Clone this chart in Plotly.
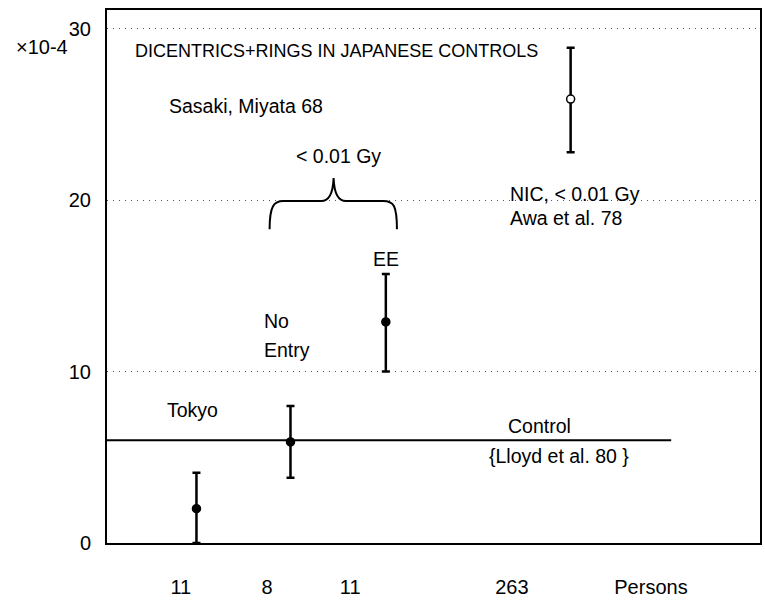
import plotly.graph_objects as go

# data
group_x = [13.7, 28.1, 42.7, 71.0]
rate = [2.0, 5.9, 12.9, 25.9]
err_plus = [2.1, 2.1, 2.8, 3.0]
err_minus = [2.0, 2.1, 2.9, 3.1]
filled = [True, True, True, False]
tick_pos = [11.3, 24.5, 37.25, 62.0, 83.3]
tick_text = ["11", "8", "11", "263", "Persons"]
control_level = 6.0
control_x = [0, 86.4]
y_ticks = [0, 10, 20, 30]

FONT = "Liberation Sans, Arial, sans-serif"

fig = go.Figure()

fig.add_trace(go.Scatter(
    x=control_x, y=[control_level, control_level], mode="lines",
    line=dict(color="black", width=2), showlegend=False, hoverinfo="skip"))

fig.add_trace(go.Scatter(
    x=group_x, y=rate, mode="markers",
    marker=dict(size=8, color=["black" if f else "white" for f in filled],
                line=dict(color="black", width=1.5)),
    error_y=dict(type="data", symmetric=False, array=err_plus, arrayminus=err_minus,
                 color="black", thickness=2.5, width=4),
    showlegend=False))

def ann(x, y, text, xanchor="left", size=19.5):
    fig.add_annotation(x=x, y=y, text=text, showarrow=False, xanchor=xanchor,
                       yanchor="middle", font=dict(family=FONT, size=size, color="black"))

ann(3.97, 28.7, "DICENTRICS+RINGS IN JAPANESE CONTROLS", size=18)
ann(9.16, 25.5, "Sasaki, Miyata 68")
ann(35.4, 22.6, "< 0.01 Gy", xanchor="center")
ann(61.4, 20.35, "NIC, < 0.01 Gy")
ann(61.4, 18.95, "Awa et al. 78")
ann(40.5, 16.6, "EE")
ann(23.7, 12.95, "No")
ann(23.7, 11.25, "Entry")
ann(8.85, 7.75, "Tokyo")
ann(61.1, 6.8, "Control")
ann(58.2, 5.1, "{Lloyd et al. 80 }")

# brace over the "< 0.01 Gy" groups
fig.add_shape(type="path", xref="x", yref="y",
              path="M 24.9 18.3 C 24.9 19.7, 25.6 19.95, 27.0 19.95 L 32.8 19.95 "
                   "C 33.9 19.95, 34.6 20.3, 34.7 21.3 C 34.8 20.3, 35.5 19.95, 36.6 19.95 "
                   "L 42.3 19.95 C 43.9 19.95, 44.4 19.7, 44.4 18.3",
              line=dict(color="black", width=2))

fig.add_annotation(xref="paper", yref="paper", x=-0.0992, y=0.931, text="×10-4",
                   showarrow=False, xanchor="center", yanchor="middle",
                   font=dict(family=FONT, size=20, color="black"))

fig.update_xaxes(range=[0, 100], tickvals=tick_pos, ticktext=tick_text,
                 showgrid=False, zeroline=False, showline=True, linecolor="black",
                 linewidth=2, mirror=True, ticks="", ticklabelstandoff=25,
                 tickfont=dict(family=FONT, size=20, color="black"))
fig.update_yaxes(range=[0, 31.1], tickvals=y_ticks, showgrid=True,
                 gridcolor="#555", griddash="1px,5px", gridwidth=1.3,
                 zeroline=False, showline=True, linecolor="black",
                 linewidth=2, mirror=True, ticks="", ticklabelstandoff=10,
                 tickfont=dict(family=FONT, size=20, color="black"))

fig.update_layout(width=765, height=601, margin=dict(l=107, r=3, t=10, b=56),
                  plot_bgcolor="white", paper_bgcolor="white",
                  font=dict(family=FONT))

fig.write_html("out.html", config={"displayModeBar": False},
               post_script="document.body.style.margin='0';"
                           "document.documentElement.style.overflow='hidden';")
